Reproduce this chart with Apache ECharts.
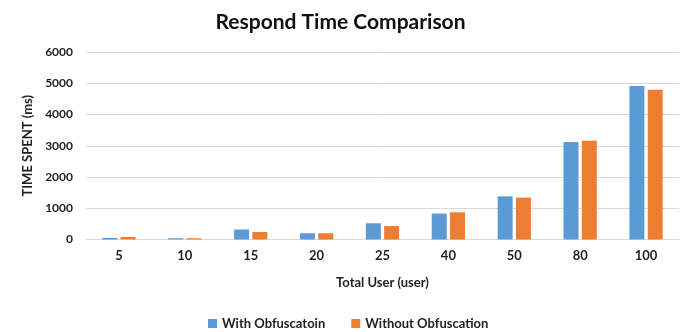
<!DOCTYPE html>
<html><head><meta charset="utf-8">
<script src="https://cdn.jsdelivr.net/npm/echarts@6/dist/echarts.min.js"></script>
<style>html,body{margin:0;padding:0;background:#fff}#c{width:681px;height:332px}</style>
</head><body><div id="c"></div>
<script>
const categories = ['5','10','15','20','25','40','50','80','100'];
const withObf = [50, 40, 320, 200, 520, 830, 1380, 3120, 4910];
const withoutObf = [80, 40, 240, 200, 430, 870, 1340, 3160, 4790];
const yTicks = [0, 1000, 2000, 3000, 4000, 5000, 6000];
const font = 'Lato, "Open Sans", sans-serif';
const txt = '#1f1f1f';
const chart = echarts.init(document.getElementById('c'));
chart.setOption({
  animation: false,
  title: { text: 'Respond Time Comparison', left: 'center', top: 7,
    textStyle: { fontFamily: font, fontSize: 21, fontWeight: 'bold', color: '#111' } },
  legend: { bottom: -3, left: 203, itemWidth: 9, itemHeight: 9, itemGap: 26, icon: 'rect',
    textStyle: { fontFamily: font, fontSize: 13, fontWeight: 'bold', color: txt } },
  grid: { left: 86, right: 2, top: 52, bottom: 92.5 },
  xAxis: { type: 'category', data: categories,
    name: 'Total User (user)', nameLocation: 'middle', nameGap: 37,
    nameTextStyle: { fontFamily: font, fontSize: 13, fontWeight: 'bold', color: txt },
    axisLine: { lineStyle: { color: '#d9d9d9', width: 1 } }, axisTick: { show: false },
    axisLabel: { fontFamily: font, fontSize: 13, fontWeight: 'bold', color: txt, margin: 10 } },
  yAxis: { type: 'value', min: yTicks[0], max: yTicks[yTicks.length-1], interval: 1000,
    name: 'TIME SPENT (ms)', nameLocation: 'middle', nameGap: 51, nameRotate: 90,
    nameTextStyle: { fontFamily: font, fontSize: 13, fontWeight: 'bold', color: txt },
    axisLine: { show: false }, axisTick: { show: false },
    splitLine: { lineStyle: { color: '#d9d9d9', width: 1 } },
    axisLabel: { fontFamily: font, fontSize: 12, fontWeight: 'bold', color: txt, margin: 13,
      formatter: v => String(v) } },
  series: [
    { name: 'With Obfuscatoin', type: 'bar', data: withObf, barWidth: 15, barGap: '22%',
      itemStyle: { color: '#5B9BD5' } },
    { name: 'Without Obfuscation', type: 'bar', data: withoutObf, barWidth: 15,
      itemStyle: { color: '#ED7D31' } }
  ]
});
</script></body></html>
